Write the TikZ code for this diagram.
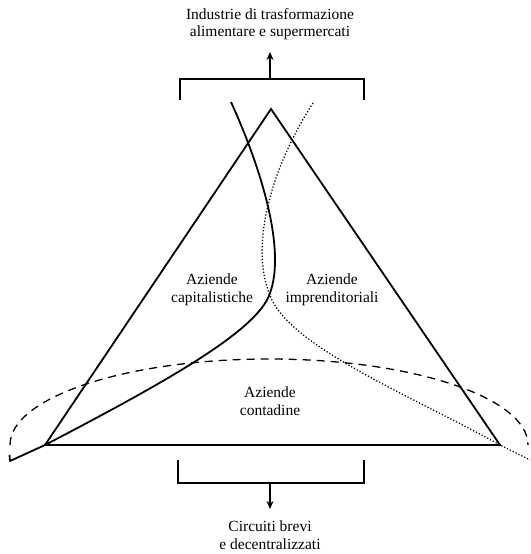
\documentclass[tikz,border=0pt]{standalone}
\usepackage{fontspec}
\setmainfont{Liberation Serif}
\usetikzlibrary{arrows.meta}
\begin{document}
\begin{tikzpicture}[x=1pt,y=-1pt,
  heavy/.style={line width=1.8pt, line join=miter},
  bracket/.style={line width=1.4pt},
  flowarrow/.style={line width=1.4pt, -{Stealth[length=8pt,width=7pt]}},
  zone/.style={align=center, font=\fontsize{15.5}{17.5}\selectfont, inner sep=1pt},
  dashline/.style={line width=1.3pt, dash pattern=on 8pt off 6pt},
  dotline/.style={line width=1.3pt, dash pattern=on 1.2pt off 2pt}]
\useasboundingbox (0,0) rectangle (530,554);

% triangle
\coordinate (apex) at (271,109);
\coordinate (bl) at (45,445);
\coordinate (br) at (500,445);
\draw[heavy] (bl) -- (apex) -- (br) -- cycle;

% upper half of the dashed ellipse
\draw[dashline] (10,445) arc[start angle=180,end angle=360,x radius=259,y radius=86];

% solid boundary curve
\draw[heavy, line join=round] (231,102) .. controls (262,170) and (288,255) .. (268,298)
  .. controls (250,335) and (160,385) .. (bl) -- (10,461) -- (9.5,455);

% dotted boundary curve
\draw[dotline] (313,103) .. controls (270,170) and (248,250) .. (272,300)
  .. controls (296,350) and (420,400) .. (br) -- (530,460);

% top bracket and arrow
\coordinate (tl) at (180,100);
\coordinate (tm) at (270,79);
\coordinate (tr) at (364,100);
\draw[bracket] (tl) |- (tm) -| (tr);
\node[zone] (top) at (270,24) {Industrie di trasformazione\\alimentare e supermercati};
\coordinate (ttip) at (270,52);
\draw[flowarrow] (tm) -- (ttip);

% bottom bracket and arrow
\coordinate (bbl) at (178,460);
\coordinate (bm) at (270,483);
\coordinate (bbr) at (364,460);
\draw[bracket] (bbl) |- (bm) -| (bbr);
\node[zone] (bottom) at (270,535) {Circuiti brevi\\e decentralizzati};
\coordinate (btip) at (270,509);
\draw[flowarrow] (bm) -- (btip);

% zone labels
\node[zone] (cap) at (212,290) {Aziende\\capitalistiche};
\node[zone] (imp) at (332,290) {Aziende\\imprenditoriali};
\node[zone] (con) at (270,401) {Aziende\\contadine};
\end{tikzpicture}
\end{document}
